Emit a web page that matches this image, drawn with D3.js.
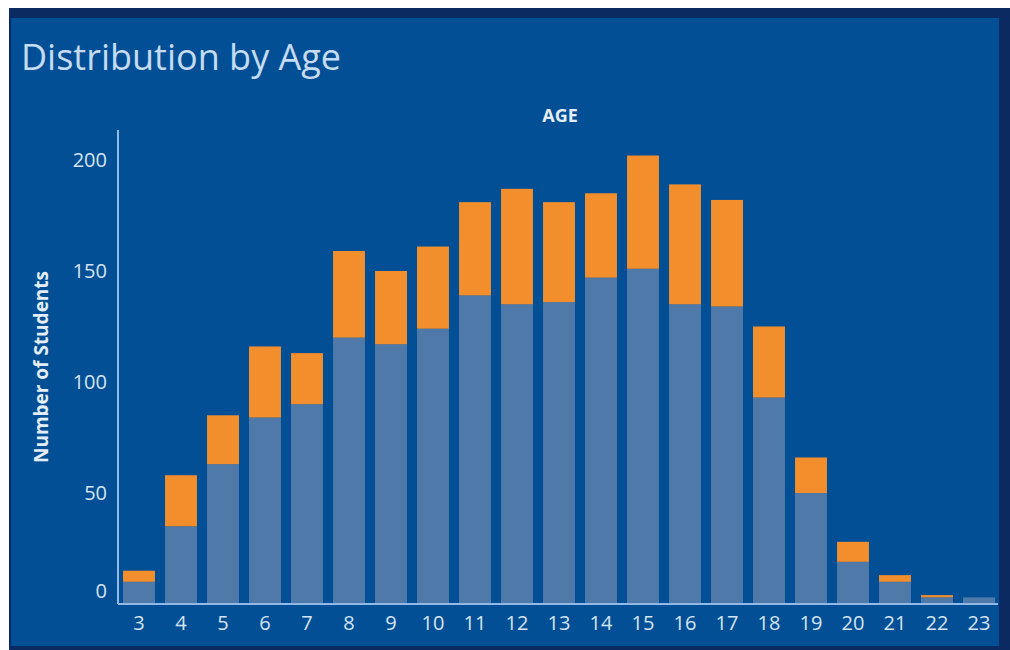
<!DOCTYPE html>
<html>
<head>
<meta charset="utf-8">
<script src="https://cdn.jsdelivr.net/npm/d3@7"></script>
<style>
  html, body { margin: 0; padding: 0; background: #ffffff; }
  svg { display: block; }
</style>
</head>
<body>
<svg id="chart" width="1010" height="650"></svg>
<script>
// Ages on the horizontal axis
const ages = [3, 4, 5, 6, 7, 8, 9, 10, 11, 12, 13, 14, 15, 16, 17, 18, 19, 20, 21, 22, 23];
// Lower (blue) segment of each stacked bar
const groupA = [10, 35, 63, 84, 90, 120, 117, 124, 139, 135, 136, 147, 151, 135, 134, 93, 50, 19, 10, 3, 3];
// Upper (orange) segment of each stacked bar
const groupB = [5, 23, 22, 32, 23, 39, 33, 37, 42, 52, 45, 38, 51, 54, 48, 32, 16, 9, 3, 1, 0];
// Value-axis ticks
const yTicks = [0, 50, 100, 150, 200];

const svg = d3.select("#chart");
const W = 1010, H = 650;
const font = "'Open Sans', 'Noto Sans', sans-serif";
const textColor = "#d3e4f6";
const axisColor = "#8fb9e6";

// Panel frame
svg.append("rect").attr("x", 0).attr("y", 0).attr("width", W).attr("height", H).attr("fill", "#ffffff");
svg.append("rect").attr("x", 9).attr("y", 8).attr("width", W - 9).attr("height", H - 8).attr("fill", "#0b2a62");
svg.append("rect").attr("x", 11).attr("y", 18).attr("width", 988).attr("height", 628).attr("fill", "#034f96");

// Title
svg.append("text")
  .attr("x", 21).attr("y", 70)
  .attr("font-family", font).attr("font-size", 36)
  .attr("fill", "#c5dbf1")
  .text("Distribution by Age");

const plot = { left: 118, right: 1000, top: 130, bottom: 604 };

const x = d3.scaleBand()
  .domain(ages)
  .range([plot.left, plot.right])
  .paddingInner(0.24)
  .paddingOuter(0.12);

const y = d3.scaleLinear()
  .domain([0, 213.5])
  .range([plot.bottom, plot.top]);

const rows = ages.map((a, i) => ({ age: a, A: groupA[i], B: groupB[i] }));
const stacked = d3.stack().keys(["A", "B"])(rows);
const colors = { A: "#4f79a8", B: "#f28e2b" };

svg.append("g")
  .selectAll("g")
  .data(stacked)
  .join("g")
  .attr("fill", d => colors[d.key])
  .selectAll("rect")
  .data(d => d)
  .join("rect")
  .attr("x", d => x(d.data.age))
  .attr("width", x.bandwidth())
  .attr("y", d => y(d[1]))
  .attr("height", d => Math.max(0, y(d[0]) - y(d[1])));

// Y axis
const yAxis = svg.append("g")
  .attr("transform", `translate(${plot.left},0)`)
  .call(d3.axisLeft(y).tickValues(yTicks).tickSize(0).tickPadding(11));
yAxis.select(".domain").attr("stroke", axisColor).attr("stroke-width", 2)
  .attr("d", `M0,${plot.top}V${plot.bottom}`);
yAxis.selectAll(".tick text")
  .attr("fill", textColor).attr("font-family", font).attr("font-size", 20)
  .attr("dy", d => d === 0 ? "-0.35em" : "0.35em");

// X axis
const xAxis = svg.append("g")
  .attr("transform", `translate(0,${plot.bottom})`)
  .call(d3.axisBottom(x).tickSize(0).tickPadding(12));
xAxis.select(".domain").attr("stroke", axisColor).attr("stroke-width", 2)
  .attr("d", `M${plot.left},0H${plot.right - 2}`);
xAxis.selectAll(".tick text")
  .attr("fill", textColor).attr("font-family", font).attr("font-size", 20);

// Axis titles
svg.append("text")
  .attr("x", 560).attr("y", 122)
  .attr("text-anchor", "middle")
  .attr("font-family", font).attr("font-size", 18).attr("font-weight", "bold")
  .attr("fill", "#e3eefa")
  .text("AGE");

svg.append("text")
  .attr("transform", `translate(48,367) rotate(-90)`)
  .attr("text-anchor", "middle")
  .attr("font-family", font).attr("font-size", 19).attr("font-weight", "bold")
  .attr("fill", "#e3eefa")
  .text("Number of Students");
</script>
</body>
</html>
